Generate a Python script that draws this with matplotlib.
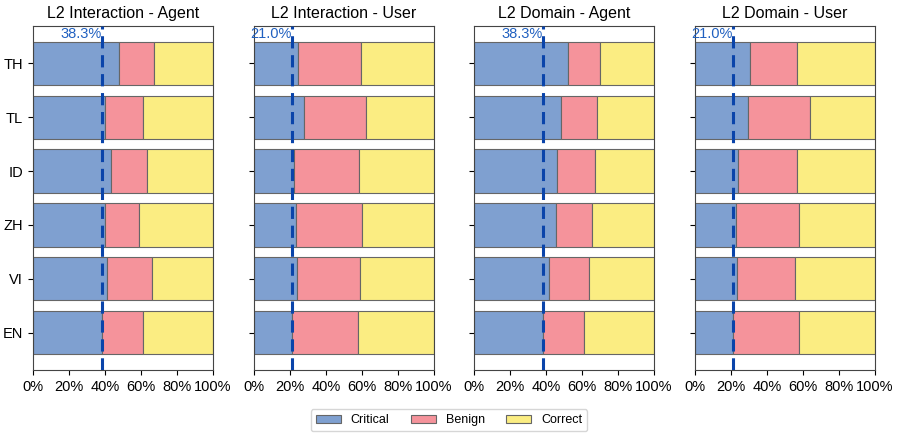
import numpy as np
import matplotlib.pyplot as plt
from matplotlib.ticker import PercentFormatter

plt.rcParams['font.family'] = ['Liberation Sans', 'DejaVu Sans']

langs = ['TH', 'TL', 'ID', 'ZH', 'VI', 'EN']
titles = ['L2 Interaction - Agent', 'L2 Interaction - User',
          'L2 Domain - Agent', 'L2 Domain - User']

# percent values per panel, rows in langs order
critical = [
    [47.9, 40.2, 43.1, 40.1, 41.4, 38.3],
    [24.3, 28.0, 22.0, 23.3, 23.9, 21.0],
    [52.4, 48.1, 46.1, 45.8, 41.6, 38.3],
    [30.7, 29.3, 24.1, 22.9, 23.5, 21.0],
]
benign = [
    [19.1, 21.1, 20.4, 18.7, 24.5, 23.0],
    [35.1, 34.4, 36.3, 36.7, 35.2, 36.6],
    [17.8, 20.0, 20.9, 19.8, 22.3, 22.9],
    [26.0, 34.8, 32.4, 34.6, 32.1, 36.7],
]
ref_lines = [38.3, 21.0, 38.3, 21.0]

colors = {'Critical': '#7fa0d0', 'Benign': '#f5939b', 'Correct': '#fbed82'}
line_color = '#0a44aa'

fig = plt.figure(figsize=(8.98, 4.38), dpi=100)
lefts = [0.0367, 0.2829, 0.5278, 0.774]
axes = [fig.add_axes([l, 0.1553, 0.2004, 0.7854]) for l in lefts]

y = np.arange(len(langs))
for i, ax in enumerate(axes):
    crit = np.array(critical[i])
    ben = np.array(benign[i])
    corr = 100 - crit - ben
    ax.barh(y, crit, height=0.8, color=colors['Critical'], edgecolor='#666666',
            linewidth=0.8, label='Critical')
    ax.barh(y, ben, left=crit, height=0.8, color=colors['Benign'],
            edgecolor='#666666', linewidth=0.8, label='Benign')
    ax.barh(y, corr, left=crit + ben, height=0.8, color=colors['Correct'],
            edgecolor='#666666', linewidth=0.8, label='Correct')
    ax.axvline(ref_lines[i], color=line_color, linestyle=(0, (4, 2.2)), linewidth=2.2, zorder=5)
    ax.text(ref_lines[i], -0.42, f'{ref_lines[i]:.1f}%', color='#2060c0',
            fontsize=10.5, ha='right', va='bottom', zorder=6)
    ax.set_xlim(0, 100)
    ax.set_xticks([0, 20, 40, 60, 80, 100])
    ax.xaxis.set_major_formatter(PercentFormatter(decimals=0))
    ax.set_yticks(y)
    ax.set_yticklabels(langs if i == 0 else [])
    ax.invert_yaxis()
    ax.set_title(titles[i], fontsize=11.5, pad=6)
    ax.tick_params(labelsize=10.5)
    for s in ax.spines.values():
        s.set_color('#444444')

handles, labels = axes[0].get_legend_handles_labels()
fig.legend(handles, labels, loc='center', bbox_to_anchor=(0.5, 0.041), ncol=3,
           fontsize=9, frameon=True, edgecolor='#cccccc', handlelength=2.0,
           handleheight=0.6, columnspacing=1.7, handletextpad=0.8,
           fancybox=True)

fig.savefig('out.png', dpi=100)
